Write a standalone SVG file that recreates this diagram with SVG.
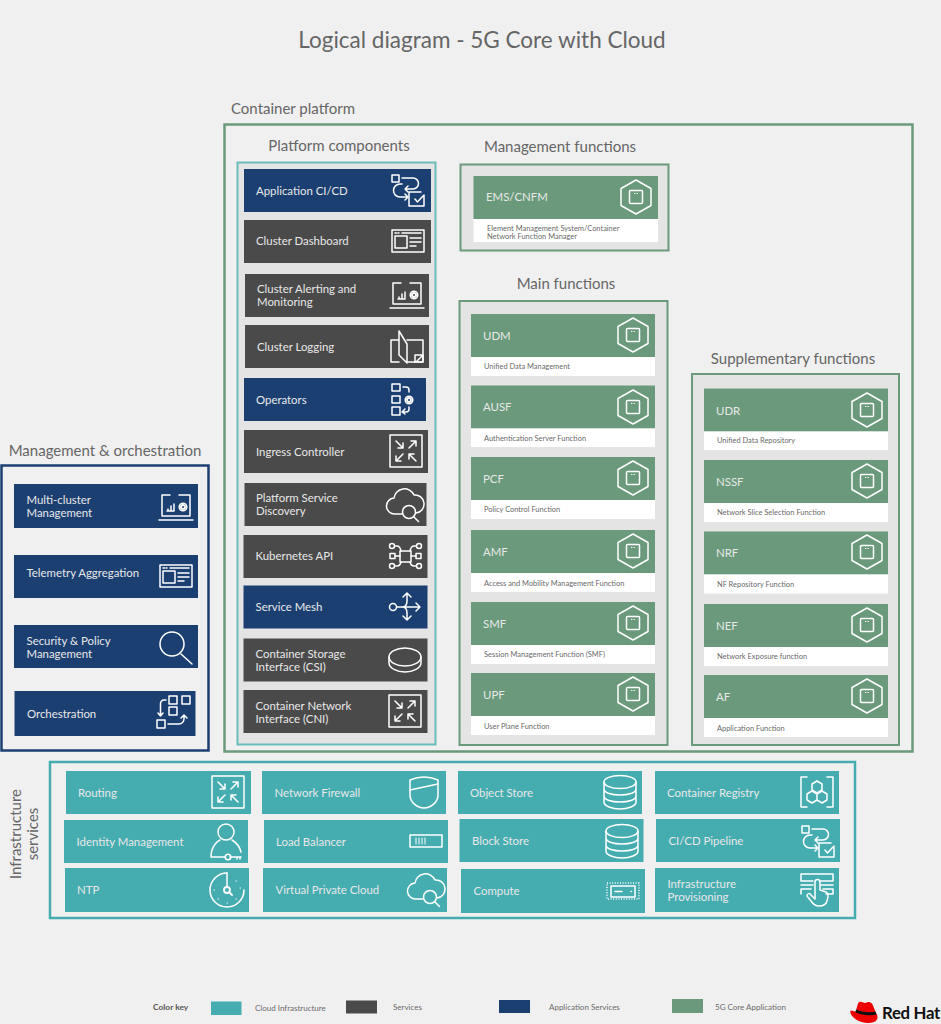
<svg xmlns="http://www.w3.org/2000/svg" xmlns:xlink="http://www.w3.org/1999/xlink" width="941" height="1024" viewBox="0 0 941 1024">
<style>
text{font-family:"Lato","Open Sans","Liberation Sans",sans-serif}
.h{fill:#666;font-size:15px}
.title{fill:#666;font-size:22.5px}
.t{fill:#e8e8e8;font-size:11.4px}
.t5{fill:#e8e8e8;font-size:11.4px}
.s{fill:#6a6a6a;font-size:7.45px}
.k{fill:#6a6a6a;font-size:8px}
.blue{fill:#1c3f72}.gray{fill:#4a4a4a}.teal{fill:#45adb0}.green{fill:#6a9a7b}.white{fill:#fff}
.ic,.ic *{fill:none;stroke:#fff;stroke-width:1.5;stroke-linecap:round;stroke-linejoin:round}
.ic .f{fill:#fff;stroke:none}
.ic .teeth{stroke-dasharray:2 1.800;stroke-linecap:butt}
.pg{fill:#e4e4e4}
</style>
<defs>
<g id="i-hex"><path d="M0-17 15-8.500 15 8.500 0 17-15 8.500-15-8.500Z"/><rect x="-6.500" y="-6.500" width="13" height="13" rx="1"/><path d="M-1.500-3.500h.5M1-3.500h.5" stroke-width="1"/></g>
<g id="i-cicd"><rect x="-16" y="-15" width="7" height="7"/><path d="M-6-12H5a5.500 5.500 0 0 1 0 11H-3M0-4-3-1 0 2"/><path d="M-6-6h-2a6 6 0 0 0 0 13H0M-3 4 0 7-3 10"/><path d="M13 2H1V16H16V5M7 9l2.500 3L15 6"/></g>
<g id="i-dash"><rect x="-16" y="-11" width="32" height="22"/><path d="M-13-8h1.500M-10-8h1M-6-8H13"/><rect x="-13" y="-5" width="12" height="12"/><path d="M2-3H13M2 1H13M2 5H8"/></g>
<g id="i-laptop"><path d="M-14 10V-11H-6M3-11H14V10H-14M-17 14H17"/><path d="M-9 5H-2M-8 5V3M-5 5V0M-2 5V-2"/><circle cx="7" cy="1" r="2" stroke-width="2"/><circle class="teeth" cx="7" cy="1" r="3.800"/></g>
<g id="i-log"><path d="M-8-7H-16V15H-8M-8-16V8L0 16V-3ZM0-7H16V15H0"/><path d="M8 8H16V15H8ZM10 14l5-5"/></g>
<g id="i-ops"><rect x="-13" y="-16" width="8" height="7"/><rect x="-13" y="-4" width="8" height="7"/><rect class="f" x="-13" y="7" width="8" height="8"/><path d="M-2-13H1a3 3 0 0 1 3 3v2"/><circle cx="4" cy="0" r="2" stroke-width="2"/><circle class="teeth" cx="4" cy="0" r="3.800"/><path d="M4 7v2a3 3 0 0 1-3 3H-2M0 9-3 12 0 14"/></g>
<g id="i-route"><rect x="-16" y="-16" width="32" height="32"/><path d="M-10-10-3-3M-3-8V-3H-8M3-3 10-10M5-10H10V-5M-3 3-10 10M-10 5V10H-5M10 10 3 3M3 8V3H8"/></g>
<g id="i-cloud"><path d="M-3 11H-10a8 8 0 0 1-1-16 10.500 10.500 0 0 1 20-3 9 9 0 0 1 2 18H11"/><circle cx="4" cy="9" r="6.500"/><path d="M9 14l4.500 4.500"/></g>
<g id="i-api"><rect x="-6" y="-5" width="11" height="11"/><rect x="-16" y="-2.500" width="5" height="5"/><rect x="10" y="-2.500" width="5" height="5"/><path d="M-11 0H-6M5 0H10"/><circle cx="-14" cy="-10" r="2.500"/><circle cx="-14" cy="10" r="2.500"/><circle cx="13" cy="-10" r="2.500"/><circle cx="13" cy="10" r="2.500"/><path d="M-11-10H-9Q-6-10-5-5M-11 10H-9Q-6 10-5 6M10-10H8Q5-10 4-5M10 10H8Q5 10 4 6"/></g>
<g id="i-mesh"><circle cx="-13" cy="0" r="3.500"/><path d="M-9 0H14M10-4 14 0 10 4M-4 0Q1 0 1-6V-13M-3-10 1-14 5-10M-4 0Q1 0 1 6V13M-3 9 1 13 5 9" /></g>
<g id="i-disk"><ellipse cx="0" cy="-3" rx="16" ry="9"/><path d="M-16-3V3C-16 8-8 12 0 12S16 8 16 3V-3"/></g>
<g id="i-mag"><circle cx="-4" cy="-2" r="12"/><path d="M5 8 16 18"/></g>
<g id="i-orch"><rect x="-4" y="-17" width="8" height="8"/><rect x="9" y="-17" width="8" height="8"/><rect class="f" x="-4" y="-6" width="8" height="8"/><rect class="f" x="-16" y="7" width="8" height="8"/><path d="M-7-13H-9a3.500 3.500 0 0 0-3.500 3.500V3M-15 0-12.500 3-10 0M-5 11H6a5 5 0 0 0 5-5V2M8 5 11 2 14 5"/></g>
<g id="i-shield"><path d="M-14-12Q0-18 14-12V3C14 10 7 16 0 16S-14 10-14 3Z"/><path d="M-14-2 14-8"/></g>
<g id="i-db"><ellipse cx="0" cy="-10" rx="16" ry="6.500"/><path d="M-16-10V10C-16 14-8 17 0 17S16 14 16 10V-10M-16-3C-16 1-8 3 0 3S16 1 16-3M-16 4C-16 8-8 10 0 10S16 8 16 4"/></g>
<g id="i-reg"><path d="M-10-15H-16V15H-10M10-15H16V15H10"/><path d="M0-11 5-8V-2L0 1-5-2V-8ZM-5-1 0 2V8L-5 11-10 8V2ZM5-1 10 2V8L5 11 0 8V2Z"/></g>
<g id="i-person"><circle cx="0" cy="-10" r="8"/><path d="M-15 15C-15 5-9-1-6-2M6-2C11 1 14 6 15 10M-15 15H-1"/><circle class="f" cx="2" cy="15" r="2.800"/><path d="M4 15H15M11 15v2M14 15v2"/></g>
<g id="i-lb"><rect x="-16" y="-6" width="32" height="12"/><path d="M-10-3V3M-7-3V3M-4-3V3M-1-3V3" stroke-width="1"/></g>
<g id="i-clock"><path d="M0-17A17 17 0 1 0 17 0" /><path d="M0-17V-3"/><circle cx="0" cy="0" r="3" stroke-width="1.800"/><path d="M2 2 5 5" stroke-width="1.800"/><path d="M9-9h.5M13-2h.5M-13 0h.5M0 13h.5M9 9h.5M-9 9h.5" stroke-width="1"/></g>
<g id="i-comp"><rect x="-16" y="-8" width="32" height="16" stroke-dasharray="1 1.600" stroke-linecap="butt"/><rect x="-12" y="-5" width="24" height="11"/><path d="M-8 .5H-1M8 .5h.5"/></g>
<g id="i-prov"><path d="M-16-9V-16H16V-9H4M-16-9H-4M-16-9M-16-5H-4M4-5H16M-16 4V-1H-6M6-1H16V4H9"/><path d="M-2 9V-8a2.500 2.500 0 0 1 5 0V0L9 2C12 3 11 8 10 11 9 15 6 16 2 16-2 16-4 14-6 11L-10 6C-10 3-7 3-6 5Z"/></g>
</defs>
<rect width="941" height="1024" fill="#f0f0f0"/>

<text class="title" x="482" y="48" text-anchor="middle">Logical diagram - 5G Core with Cloud</text>
<text class="h" x="231" y="114">Container platform</text>
<rect x="224.500" y="124.500" width="688" height="627" fill="#f0f0f0" stroke="#6a9a7b" stroke-width="2.500"/>

<g id="platform-components">
<text class="h" x="339" y="151" text-anchor="middle">Platform components</text>
<rect class="pg" x="237.500" y="162.500" width="198" height="582" stroke="#68bdb9" stroke-width="2"/>
<g id="app-cicd"><rect class="blue" x="244" y="169" width="187" height="43"/><text class="t" x="256" y="195">Application CI/CD</text><use xlink:href="#i-cicd" x="408" y="190" class="ic"/></g>
<g id="cluster-dashboard"><rect class="gray" x="244" y="220" width="187" height="43"/><text class="t" x="256" y="245">Cluster Dashboard</text><use xlink:href="#i-dash" x="408" y="241" class="ic"/></g>
<g id="cluster-alerting"><rect class="gray" x="245" y="274" width="184" height="43"/><text class="t" x="257" y="293">Cluster Alerting and</text><text class="t" x="257" y="306">Monitoring</text><use xlink:href="#i-laptop" x="407" y="294" class="ic"/></g>
<g id="cluster-logging"><rect class="gray" x="245" y="325" width="184" height="43"/><text class="t" x="257" y="351">Cluster Logging</text><use xlink:href="#i-log" x="407" y="347" class="ic"/></g>
<g id="operators"><rect class="blue" x="244" y="378" width="182" height="43"/><text class="t" x="256" y="404">Operators</text><use xlink:href="#i-ops" x="405" y="400" class="ic"/></g>
<g id="ingress"><rect class="gray" x="244" y="430" width="184" height="43"/><text class="t" x="256" y="456">Ingress Controller</text><use xlink:href="#i-route" x="406" y="451" class="ic"/></g>
<g id="service-discovery"><rect class="gray" x="244.500" y="483" width="182" height="43"/><text class="t" x="256" y="502">Platform Service</text><text class="t" x="256" y="515">Discovery</text><use xlink:href="#i-cloud" x="405" y="503" class="ic"/></g>
<g id="k8s-api"><rect class="gray" x="243.500" y="535" width="184" height="43"/><text class="t" x="255.500" y="560">Kubernetes API</text><use xlink:href="#i-api" x="406" y="556" class="ic"/></g>
<g id="service-mesh"><rect class="blue" x="243.500" y="585.500" width="184" height="43"/><text class="t" x="255.500" y="611">Service Mesh</text><use xlink:href="#i-mesh" x="406" y="607" class="ic"/></g>
<g id="csi"><rect class="gray" x="243.500" y="638.500" width="184" height="43"/><text class="t" x="255.500" y="658">Container Storage</text><text class="t" x="255.500" y="671">Interface (CSI)</text><use xlink:href="#i-disk" x="405" y="660" class="ic"/></g>
<g id="cni"><rect class="gray" x="243.500" y="690" width="184" height="43"/><text class="t" x="255.500" y="710">Container Network</text><text class="t" x="255.500" y="723">Interface (CNI)</text><use xlink:href="#i-route" x="405" y="711" class="ic"/></g>
</g>

<g id="management-functions">
<text class="h" x="560" y="152" text-anchor="middle">Management functions</text>
<rect class="pg" x="460.500" y="164.500" width="208" height="86" stroke="#6a9a7b" stroke-width="2"/>
<g id="ems"><rect class="green" x="473.500" y="176" width="184.500" height="43"/><rect class="white" x="473.500" y="219" width="184.500" height="23"/><text class="t5" x="486" y="201">EMS/CNFM</text><text class="s" x="487" y="231">Element Management System/Container</text><text class="s" x="487" y="239">Network Function Manager</text><use xlink:href="#i-hex" x="636" y="197" class="ic"/></g>
</g>

<g id="main-functions">
<text class="h" x="566" y="289" text-anchor="middle">Main functions</text>
<rect class="pg" x="459.500" y="301" width="208" height="444" stroke="#6a9a7b" stroke-width="2"/>
<g id="udm"><rect class="green" x="471" y="314" width="184" height="43"/><rect class="white" x="471" y="357" width="184" height="19"/><text class="t5" x="483" y="340">UDM</text><text class="s" x="484" y="369">Unified Data Management</text><use xlink:href="#i-hex" x="633" y="335" class="ic"/></g>
<g id="ausf"><rect class="green" x="471" y="385.500" width="184" height="43"/><rect class="white" x="471" y="428.500" width="184" height="18.500"/><text class="t5" x="483" y="411">AUSF</text><text class="s" x="484" y="441">Authentication Server Function</text><use xlink:href="#i-hex" x="633" y="407" class="ic"/></g>
<g id="pcf"><rect class="green" x="471" y="457" width="184" height="43"/><rect class="white" x="471" y="500" width="184" height="19"/><text class="t5" x="483" y="483">PCF</text><text class="s" x="484" y="512">Policy Control Function</text><use xlink:href="#i-hex" x="633" y="478" class="ic"/></g>
<g id="amf"><rect class="green" x="471" y="530" width="184" height="43"/><rect class="white" x="471" y="573" width="184" height="19"/><text class="t5" x="483" y="556">AMF</text><text class="s" x="484" y="586">Access and Mobility Management Function</text><use xlink:href="#i-hex" x="633" y="551" class="ic"/></g>
<g id="smf"><rect class="green" x="471" y="602" width="184" height="43"/><rect class="white" x="471" y="645" width="184" height="19"/><text class="t5" x="483" y="628">SMF</text><text class="s" x="484" y="657">Session Management Function (SMF)</text><use xlink:href="#i-hex" x="633" y="623" class="ic"/></g>
<g id="upf"><rect class="green" x="471" y="673" width="184" height="43"/><rect class="white" x="471" y="716" width="184" height="19"/><text class="t5" x="483" y="699">UPF</text><text class="s" x="484" y="729">User Plane Function</text><use xlink:href="#i-hex" x="633" y="694" class="ic"/></g>
</g>

<g id="supplementary-functions">
<text class="h" x="793" y="364" text-anchor="middle">Supplementary functions</text>
<rect class="pg" x="692" y="374" width="207" height="371" stroke="#6a9a7b" stroke-width="2"/>
<g id="udr"><rect class="green" x="704" y="388.500" width="184" height="43"/><rect class="white" x="704" y="431.500" width="184" height="18.500"/><text class="t5" x="716" y="415">UDR</text><text class="s" x="717" y="443">Unified Data Repository</text><use xlink:href="#i-hex" x="867" y="410" class="ic"/></g>
<g id="nssf"><rect class="green" x="704" y="460" width="184" height="43"/><rect class="white" x="704" y="503" width="184" height="19"/><text class="t5" x="716" y="486">NSSF</text><text class="s" x="717" y="515">Network Slice Selection Function</text><use xlink:href="#i-hex" x="867" y="481" class="ic"/></g>
<g id="nrf"><rect class="green" x="704" y="531.500" width="184" height="43"/><rect class="white" x="704" y="574.500" width="184" height="19"/><text class="t5" x="716" y="557">NRF</text><text class="s" x="717" y="587">NF Repository Function</text><use xlink:href="#i-hex" x="867" y="552" class="ic"/></g>
<g id="nef"><rect class="green" x="704" y="604" width="184" height="43"/><rect class="white" x="704" y="647" width="184" height="19"/><text class="t5" x="716" y="630">NEF</text><text class="s" x="717" y="659">Network Exposure function</text><use xlink:href="#i-hex" x="867" y="625" class="ic"/></g>
<g id="af"><rect class="green" x="704" y="675" width="184" height="43"/><rect class="white" x="704" y="718" width="184" height="19"/><text class="t5" x="716" y="701">AF</text><text class="s" x="717" y="731">Application Function</text><use xlink:href="#i-hex" x="867" y="696" class="ic"/></g>
</g>

<g id="management-orchestration">
<text class="h" x="105" y="456" text-anchor="middle">Management &amp; orchestration</text>
<rect x="1.500" y="465.500" width="207" height="285" fill="#f0f0f0" stroke="#1c3f72" stroke-width="2.500"/>
<g id="multi-cluster"><rect class="blue" x="14" y="484" width="184" height="44"/><text class="t" x="26.500" y="504">Multi-cluster</text><text class="t" x="26.500" y="517">Management</text><use xlink:href="#i-laptop" x="176" y="506" class="ic"/></g>
<g id="telemetry"><rect class="blue" x="14" y="555" width="184" height="43"/><text class="t" x="26.500" y="577">Telemetry Aggregation</text><use xlink:href="#i-dash" x="176" y="576" class="ic"/></g>
<g id="security"><rect class="blue" x="14" y="625" width="184" height="43"/><text class="t" x="26.500" y="645">Security &amp; Policy</text><text class="t" x="26.500" y="658">Management</text><use xlink:href="#i-mag" x="176" y="646" class="ic"/></g>
<g id="orchestration"><rect class="blue" x="14.500" y="691" width="181" height="45"/><text class="t" x="27" y="718">Orchestration</text><use xlink:href="#i-orch" x="173" y="713" class="ic"/></g>
</g>

<g id="infrastructure-services">
<text class="h" transform="rotate(-90 21 834)" x="21" y="834" text-anchor="middle">Infrastructure</text>
<text class="h" transform="rotate(-90 38 834)" x="38" y="834" text-anchor="middle">services</text>
<rect x="50" y="762" width="805" height="156" fill="#f0f0f0" stroke="#45adb0" stroke-width="2.500"/>
<g id="routing"><rect class="teal" x="66" y="771" width="185" height="43"/><text class="t" x="78" y="797">Routing</text><use xlink:href="#i-route" x="228" y="792" class="ic"/></g>
<g id="firewall"><rect class="teal" x="262" y="771" width="184" height="43"/><text class="t" x="274.500" y="797">Network Firewall</text><use xlink:href="#i-shield" x="424" y="792" class="ic"/></g>
<g id="object-store"><rect class="teal" x="458" y="771" width="184" height="43"/><text class="t" x="470" y="797">Object Store</text><use xlink:href="#i-db" x="620" y="792" class="ic"/></g>
<g id="registry"><rect class="teal" x="655" y="771" width="184" height="43"/><text class="t" x="667" y="797">Container Registry</text><use xlink:href="#i-reg" x="817" y="792" class="ic"/></g>
<g id="identity"><rect class="teal" x="64" y="820" width="184" height="43"/><text class="t" x="76.500" y="846">Identity Management</text><use xlink:href="#i-person" x="226" y="842" class="ic"/></g>
<g id="load-balancer"><rect class="teal" x="264" y="820" width="184" height="43"/><text class="t" x="276" y="846">Load Balancer</text><use xlink:href="#i-lb" x="426" y="841" class="ic"/></g>
<g id="block-store"><rect class="teal" x="459.500" y="819" width="184" height="43"/><text class="t" x="472" y="845">Block Store</text><use xlink:href="#i-db" x="622" y="841" class="ic"/></g>
<g id="cicd-pipeline"><rect class="teal" x="656" y="819" width="184" height="43"/><text class="t" x="668.500" y="845">CI/CD Pipeline</text><use xlink:href="#i-cicd" x="818" y="841" class="ic"/></g>
<g id="ntp"><rect class="teal" x="65" y="868" width="184" height="44"/><text class="t" x="77" y="894">NTP</text><use xlink:href="#i-clock" x="227" y="890" class="ic"/></g>
<g id="vpc"><rect class="teal" x="263" y="868" width="184" height="44"/><text class="t" x="275.500" y="894">Virtual Private Cloud</text><use xlink:href="#i-cloud" x="426" y="888" class="ic"/></g>
<g id="compute"><rect class="teal" x="461" y="869" width="184" height="44"/><text class="t" x="473.500" y="895">Compute</text><use xlink:href="#i-comp" x="623" y="891" class="ic"/></g>
<g id="provisioning"><rect class="teal" x="655" y="868" width="184" height="44"/><text class="t" x="667.500" y="888">Infrastructure</text><text class="t" x="667.500" y="901">Provisioning</text><use xlink:href="#i-prov" x="817" y="890" class="ic"/></g>
</g>

<g id="color-key">
<text x="153" y="1010" font-size="8.400" font-weight="700" fill="#555">Color key</text>
<rect class="teal" x="211" y="1001.500" width="30.500" height="13.500"/><text class="k" x="255" y="1010.500">Cloud Infrastructure</text>
<rect class="gray" x="346" y="1000.500" width="31" height="13"/><text class="k" x="393" y="1009.500">Services</text>
<rect class="blue" x="499" y="1000" width="31" height="13"/><text class="k" x="549" y="1009.500">Application Services</text>
<rect class="green" x="672" y="999" width="31" height="14"/><text class="k" x="715" y="1009.500">5G Core Application</text>
</g>
<g id="red-hat-logo">
<path d="M858 1012C856 1012 852 1010.500 850.500 1010.500 849.800 1012.500 851 1016 856 1019.500 861 1023 869 1024 874 1022 878 1020.500 878.500 1016 876 1013.500 873 1015 866 1014 858 1012Z" fill="#e00"/>
<path d="M858 1003.500 856 1010.500C861 1013 870 1014.500 876 1013.500 875 1010.500 873.500 1006.500 872.500 1004.500 871.500 1002.500 869 1001.500 867 1002.500 865 1003.500 863 1002.500 861.500 1002 860 1001.500 858.800 1002 858 1003.500Z" fill="#e00"/>
<path d="M856.200 1009.500 855.300 1012.200C861 1015 870 1016 876.500 1014.500L875.500 1011.500C869 1013 862 1012 856.200 1009.500Z" fill="#111"/>
<text x="882" y="1019" font-size="16.800" font-weight="700" fill="#111" font-family="Liberation Sans, sans-serif" letter-spacing="-.3">Red Hat</text>
</g>
</svg>
